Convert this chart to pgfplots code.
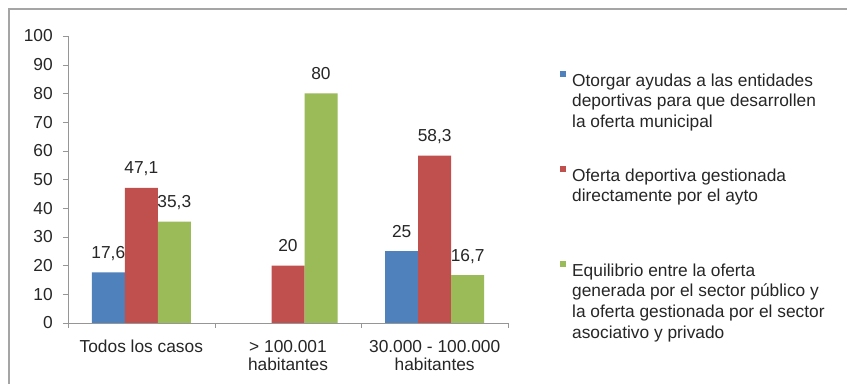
\documentclass[border=0pt]{standalone}
\usepackage{pgfplots}
\pgfplotsset{compat=1.18}
\usepackage{fontspec}
\setmainfont{Liberation Sans}
\definecolor{cblue}{RGB}{79,129,189}
\definecolor{cred}{RGB}{192,80,77}
\definecolor{cgreen}{RGB}{155,187,89}
\definecolor{framegray}{RGB}{165,165,165}
\definecolor{axisgray}{RGB}{150,150,150}
\newcommand{\lgtext}[1]{\smash{\parbox[t]{230pt}{\raggedright #1}}}
\begin{document}
\begin{tikzpicture}
\useasboundingbox (0,0) rectangle (635.25pt,288pt);
\fill[white] (0,0) rectangle (635.25pt,288pt);
\draw[framegray, line width=1.5pt] (6.75pt,0) -- (6.75pt,281.6pt) -- (635.25pt,281.6pt);
\begin{axis}[
  at={(51pt,45.75pt)}, anchor=south west,
  scale only axis, width=330pt, height=215.25pt,
  xmin=-0.5, xmax=2.5, ymin=0, ymax=100,
  enlargelimits=false, clip=false,
  ybar=0pt, bar width=24.75pt,
  axis lines*=left, axis line style={-, draw=axisgray},
  xtick={0,1,2},
  xticklabels={Todos los casos, {> 100.001\\habitantes}, {30.000 - 100.000\\habitantes}},
  minor xtick={-0.5,0.5,1.5,2.5},
  major x tick style={draw=none},
  minor x tick style={draw=axisgray},
  ytick={0,10,...,100},
  y tick style={draw=axisgray},
  tick align=outside,
  major tick length=3.75pt, minor tick length=3.75pt,
  /pgf/number format/assume math mode=true,
  tick label style={font=\fontsize{13}{13.5}\selectfont, text=black!85},
  xticklabel style={align=center, inner sep=0pt, yshift=-9pt},
  yticklabel style={inner sep=0pt, xshift=-7.5pt},
  nodes near coords={\pgfmathprintnumber[use comma]{\pgfplotspointmeta}},
  every node near coord/.append style={font=\fontsize{13}{13.5}\selectfont, text=black!85, anchor=base, inner sep=0pt, yshift=10.4pt},
  legend style={at={(1.118,0.88)}, anchor=north west, draw=none, fill=none,
    inner sep=0pt, row sep=56.25pt, column sep=2.5pt,
    cells={anchor=base west, inner sep=0pt},
    font=\fontsize{13}{15.5}\selectfont, text=black!85},
]
\addplot[fill=cblue, draw=none,
  legend image code/.code={\path (0pt,0pt); \fill[cblue] (0pt,7pt) rectangle (4.5pt,11.5pt);}]
  coordinates {(0,17.6) (2,25)};
\addlegendentry{\lgtext{Otorgar ayudas a las entidades\\deportivas para que desarrollen\\la oferta municipal}}
\addplot[fill=cred, draw=none,
  legend image code/.code={\path (0pt,0pt); \fill[cred] (0pt,7pt) rectangle (4.5pt,11.5pt);}]
  coordinates {(0,47.1) (1,20) (2,58.3)};
\addlegendentry{\lgtext{Oferta deportiva gestionada\\directamente por el ayto}}
\addplot[fill=cgreen, draw=none,
  legend image code/.code={\path (0pt,0pt); \fill[cgreen] (0pt,7pt) rectangle (4.5pt,11.5pt);}]
  coordinates {(0,35.3) (1,80) (2,16.7)};
\addlegendentry{\lgtext{Equilibrio entre la oferta\\generada por el sector público y\\la oferta gestionada por el sector\\asociativo y privado}}
\end{axis}
\end{tikzpicture}
\end{document}
